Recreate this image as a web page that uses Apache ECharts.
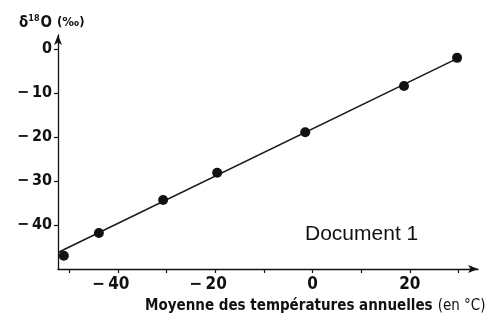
<!DOCTYPE html>
<html>
<head>
<meta charset="utf-8">
<script src="https://cdn.jsdelivr.net/npm/echarts@6/dist/echarts.min.js"></script>
<style>html,body{margin:0;padding:0;background:#fff;}#c{width:495px;height:322px;}</style>
</head>
<body>
<div id="c"></div>
<script>
// Data
var temperatures = [-51.1, -43.9, -30.7, -19.6, -1.5, 18.8, 29.7];
var delta18O = [-47.0, -41.8, -34.3, -28.1, -18.9, -8.4, -2.0];
var fitLineX = [-52.2, 30.0];
var fitLineY = [-46.2, -2.0];
var xTicks = [-50, -40, -30, -20, -10, 0, 10, 20, 30];
var xTickLabels = [-40, -20, 0, 20];
var yTicks = [-40, -30, -20, -10, 0];
var yTickLabels = [-40, -30, -20, -10, 0];

var FONT = '"Liberation Sans Narrow", "DejaVu Sans Condensed", "Arial Narrow", sans-serif';
var INK = '#111';

function fmtX(v) {
  if (v < 0) return '{n|\u2212\u2009' + Math.abs(v) + '}';
  return '{p|' + v + '}';
}
function fmtY(v) {
  if (v < 0) return '\u2212\u2009' + Math.abs(v);
  return '' + v;
}

var points = temperatures.map(function (t, i) { return [t, delta18O[i]]; });
var line = fitLineX.map(function (t, i) { return [t, fitLineY[i]]; });

var chart = echarts.init(document.getElementById('c'), null, { renderer: 'canvas' });
chart.setOption({
  animation: false,
  backgroundColor: '#fff',
  title: [
    {
      text: '{d|\u03b4}{s|18}{d|O} {p|(\u2030)}',
      left: 14, top: 9,
      textStyle: {
        rich: {
          d: { fontFamily: FONT, fontWeight: 'bold', fontSize: 15, color: INK },
          s: { fontFamily: FONT, fontWeight: 'bold', fontSize: 9, color: INK, verticalAlign: 'top', padding: [0, 1, 6, 0] },
          p: { fontFamily: FONT, fontWeight: 'bold', fontSize: 13, color: INK }
        }
      }
    },
    {
      text: '{b|Moyenne des temp\u00e9ratures annuelles} {r|(en \u00b0C)}',
      left: 140, top: 292,
      textStyle: {
        rich: {
          b: { fontFamily: FONT, fontWeight: 'bold', fontSize: 15, color: INK },
          r: { fontFamily: FONT, fontWeight: 'normal', fontSize: 15, color: INK }
        }
      }
    },
    {
      text: 'Document 1',
      left: 300, top: 219,
      textStyle: { fontFamily: '"Liberation Sans", Arial, sans-serif', fontWeight: 'normal', fontSize: 21, color: INK }
    }
  ],
  grid: { left: 58, right: 17, top: 35, bottom: 53, containLabel: false },
  xAxis: {
    type: 'value',
    min: -52.3, max: 34.0,
    splitLine: { show: false },
    axisLine: { show: true, onZero: false, lineStyle: { color: INK, width: 1.3 }, symbol: ['none', 'arrow'], symbolSize: [6, 10] },
    axisTick: { show: true, inside: false, length: 4, lineStyle: { color: INK, width: 1.2 }, customValues: xTicks },
    axisLabel: {
      show: true, margin: 7, customValues: xTickLabels, formatter: fmtX,
      rich: {
        n: { fontFamily: FONT, fontWeight: 'bold', fontSize: 17, color: INK, padding: [0, 14, 0, 0] },
        p: { fontFamily: FONT, fontWeight: 'bold', fontSize: 17, color: INK }
      }
    }
  },
  yAxis: {
    type: 'value',
    min: -50, max: 3.2,
    splitLine: { show: false },
    axisLine: { show: true, onZero: false, lineStyle: { color: INK, width: 1.3 }, symbol: ['none', 'arrow'], symbolSize: [6, 10] },
    axisTick: { show: true, inside: false, length: 4, lineStyle: { color: INK, width: 1.2 }, customValues: yTicks },
    axisLabel: {
      show: true, margin: 6, customValues: yTickLabels, formatter: fmtY,
      fontFamily: FONT, fontWeight: 'bold', fontSize: 16, color: INK
    }
  },
  series: [
    {
      type: 'line',
      data: line,
      symbol: 'none',
      lineStyle: { color: '#1a1a1a', width: 1.6 },
      z: 2
    },
    {
      type: 'scatter',
      data: points,
      symbol: 'circle',
      symbolSize: 10,
      itemStyle: { color: INK, opacity: 1 },
      z: 3
    }
  ]
});
</script>
</body>
</html>
